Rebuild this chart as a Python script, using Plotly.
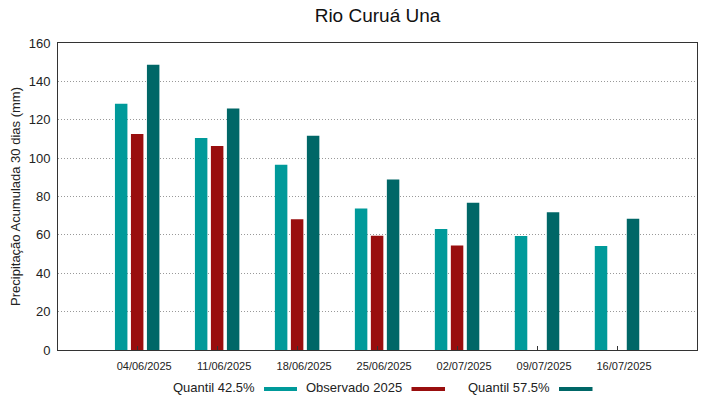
import plotly.graph_objects as go

# ---- data ----
dates = ["04/06/2025", "11/06/2025", "18/06/2025", "25/06/2025",
         "02/07/2025", "09/07/2025", "16/07/2025"]
quantil_425 = [128.4, 110.5, 96.6, 73.8, 63.1, 59.4, 54.2]
observado_2025 = [112.6, 106.3, 68.1, 59.6, 54.4, None, None]
quantil_575 = [148.7, 125.9, 111.7, 88.8, 76.8, 71.8, 68.4]
series_names = ["Quantil 42.5%", "Observado 2025", "Quantil 57.5%"]
y_ticks = [0, 20, 40, 60, 80, 100, 120, 140, 160]

colors = ["#009a9a", "#990e0e", "#006767"]
FONT = "Liberation Sans, Arial, sans-serif"

W, H = 719, 399
ML, MR, MT, MB = 58, 22, 43, 49
PW = W - ML - MR
PH = H - MT - MB

x = list(range(len(dates)))

fig = go.Figure()
for name, vals, c in zip(series_names, [quantil_425, observado_2025, quantil_575], colors):
    fig.add_trace(go.Bar(x=x, y=vals, name=name, marker=dict(color=c, line=dict(width=0)),
                         showlegend=False))


def px_x(p):
    return (p - ML) / PW


def px_y(p):
    return (H - MB - p) / PH


# custom legend: text followed by colour swatch
legend_items = [
    (256.5, 264, 297),
    (404, 411.5, 445),
    (551.5, 559, 592.5),
]
for (tx, s0, s1), name, c in zip(legend_items, series_names, colors):
    fig.add_annotation(x=px_x(tx), y=px_y(387), xref="paper", yref="paper",
                       text=name, showarrow=False, xanchor="right", yanchor="middle",
                       font=dict(family=FONT, size=13, color="#222"))
    fig.add_shape(type="rect", xref="paper", yref="paper",
                  x0=px_x(s0), x1=px_x(s1), y0=px_y(391), y1=px_y(387),
                  fillcolor=c, line=dict(width=0))

fig.update_layout(
    width=W, height=H,
    margin=dict(l=ML, r=MR, t=MT, b=MB, autoexpand=False),
    paper_bgcolor="white", plot_bgcolor="white",
    barmode="group", bargap=0.4, bargroupgap=0.22,
    font=dict(family=FONT, size=13, color="#222"),
    title=dict(text="Rio Curuá Una", x=0.5, xref="paper", xanchor="center",
               y=1 - 15 / H, yanchor="middle",
               font=dict(family=FONT, size=19, color="#111")),
)

fig.update_xaxes(
    range=[-0.99, 7.0], tickmode="array", tickvals=x, ticktext=dates,
    ticks="inside", ticklen=4, tickcolor="#333", tickwidth=1,
    showline=True, mirror=True, linecolor="#333", linewidth=1,
    showgrid=False, zeroline=False,
    tickfont=dict(family=FONT, size=11, color="#222"),
    ticklabelshift=7, ticklabelstandoff=6,
)
fig.update_yaxes(
    range=[0, 160], tickmode="array", tickvals=y_ticks,
    ticks="", showline=True, mirror=True, linecolor="#333", linewidth=1,
    showgrid=True, gridcolor="#999999", gridwidth=1, griddash="1px,2px",
    zeroline=False,
    tickfont=dict(family=FONT, size=13, color="#222"),
    ticklabelstandoff=4,
    title=dict(text="Precipitação Acumulada 30 dias (mm)", standoff=5,
               font=dict(family=FONT, size=13, color="#222")),
)

fig.write_html(
    "out.html",
    config={"displayModeBar": False},
    post_script="document.body.style.margin='0';document.body.style.padding='0';",
)
